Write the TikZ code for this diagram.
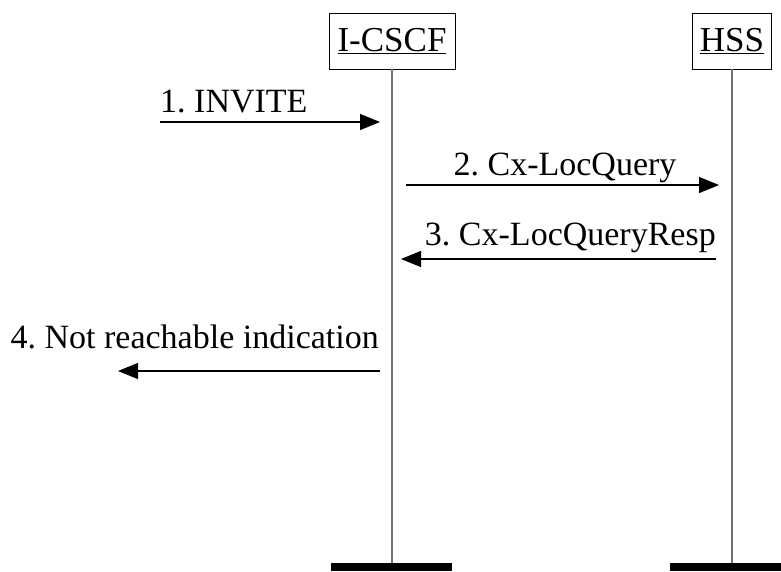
\documentclass[tikz,border=0pt]{standalone}
\usepackage{fontspec}
\setmainfont{Liberation Serif}
\usetikzlibrary{arrows.meta}
\frenchspacing
\tikzset{
  entity/.style={draw, fill=white, line width=0.9pt, minimum height=56pt, inner sep=2pt,
    font=\fontsize{35}{40}\selectfont},
  lifeline/.style={draw=black!55, line width=1.4pt},
  msg/.style={-{Triangle[length=20pt,width=16pt]}, line width=1.2pt},
  lbl/.style={inner sep=0pt}
}
\begin{document}
\begin{tikzpicture}[x=1pt, y=-1pt, font=\fontsize{34}{39}\selectfont]
  \useasboundingbox (0,0) rectangle (781,571);
  % entities
  \node[entity, minimum width=126pt] (icscf) at (392,41) {\underline{I-CSCF}};
  \node[entity, minimum width=79pt] (hss) at (732,41) {\underline{HSS}};
  % lifelines and end bars
  \coordinate (icscfend) at (icscf.south |- 0,563);
  \coordinate (hssend) at (hss.south |- 0,563);
  \draw[lifeline] (icscf.south) -- (icscfend);
  \draw[lifeline] (hss.south) -- (hssend);
  \fill ([xshift=-61pt]icscfend) rectangle ([xshift=60pt,yshift=-8pt]icscfend);
  \fill ([xshift=-62pt]hssend) rectangle ([xshift=60pt,yshift=-8pt]hssend);
  % message points
  \foreach \n/\y in {1/122, 2/185, 3/259, 4/371} {
    \coordinate (i\n) at (icscf.south |- 0,\y);
    \coordinate (h\n) at (hss.south |- 0,\y);
  }
  \coordinate (src) at (160,122);
  \coordinate (dst) at (118,371);
  % messages
  \draw[msg, shorten >=12pt] (src) -- (i1);
  \draw[msg, shorten <=14pt, shorten >=13pt] (i2) -- (h2);
  \draw[msg, shorten <=16pt, shorten >=9pt] (h3) -- (i3);
  \draw[msg, shorten <=12pt] (i4) -- (dst);
  \node[lbl, anchor=base west] (l1) at (160,112) {1. INVITE};
  \node[lbl, anchor=base] (l2) at (565,175) {2. Cx-LocQuery};
  \node[lbl, anchor=base east] (l3) at (716,245) {3. Cx-LocQueryResp};
  \node[lbl, anchor=base east] (l4) at (379,348) {4. Not reachable indication};
\end{tikzpicture}
\end{document}
